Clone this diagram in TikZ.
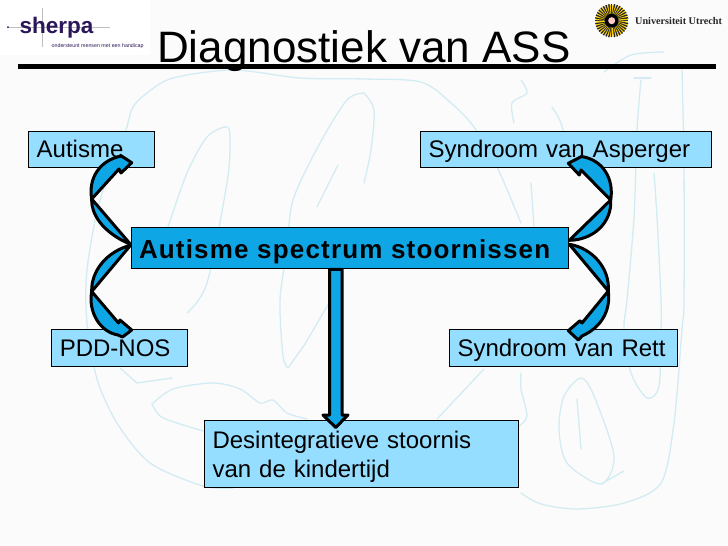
\documentclass[tikz,border=0pt]{standalone}
\usepackage{fontspec}
\setmainfont{Liberation Sans}
\newfontfamily\spacedbold[LetterSpace=4.5,BoldFont={Liberation Sans Bold}]{Liberation Sans}
\newfontfamily\uufont{Liberation Serif}
\definecolor{paperback}{HTML}{FBFBFB}
\definecolor{sketchline}{HTML}{D3ECF3}
\definecolor{boxlight}{HTML}{96DEFF}
\definecolor{boxdark}{HTML}{0FA6E6}
\definecolor{sherpapurple}{HTML}{2B1659}
\tikzset{
  lightbox/.style={draw=black, line width=1pt, fill=boxlight, anchor=north west, inner xsep=8pt, inner ysep=0pt, align=left, font=\fontsize{24}{29.3}\selectfont},
  darkbox/.style={draw=black, line width=1pt, fill=boxdark, anchor=north west, inner xsep=8pt, inner ysep=0pt, align=left, font=\fontsize{26}{31}\spacedbold\bfseries},
  crescent/.style={draw=black, line width=3pt, fill=boxdark, line join=round},
  sketch/.style={draw=sketchline, line width=1.3pt, line cap=round, line join=round}
}
\begin{document}
\begin{tikzpicture}[x=1pt, y=-1pt]
\useasboundingbox (0,0) rectangle (728,546);
\fill[paperback] (0,0) rectangle (728,546);
% sketch in the background
\draw[sketch] plot[smooth] coordinates {(127,127) (133,107) (147,93) (173,78) (233,70) (300,78) (364,79) (421,82) (451,103) (474,127) (497,167) (521,223)};
\draw[sketch] plot[smooth] coordinates {(127,127) (100,200) (87,270) (87,323) (97,379) (117,423) (150,463) (203,486) (233,488)};
\draw[sketch] plot[smooth] coordinates {(167,230) (187,173) (207,137) (227,127) (230,143) (227,183) (207,283) (187,313)};
\draw[sketch] plot[smooth] coordinates {(364,93) (347,100) (320,143) (293,200) (287,250) (280,300) (283,356) (288,368)};
\draw[sketch] (288,368) -- (305,344) -- (333,296);
\draw[sketch] (338,165) -- (317,207);
\draw[sketch] plot[smooth] coordinates {(364,93) (374,110) (371,150) (364,183)};
\draw[sketch] plot[smooth] coordinates {(152,404) (173,389) (213,383) (240,389) (260,403) (273,400) (287,413) (307,419)};
\draw[sketch] plot[smooth] coordinates {(152,404) (160,416) (177,423) (203,431)};
\draw[sketch] (120,368) -- (137,383) -- (172,378);
\draw[sketch] plot[smooth] coordinates {(521,80) (527,93) (512,103) (514,123)};
\draw[sketch] plot[smooth] coordinates {(552,107) (561,123) (567,150)};
\draw[sketch] plot[smooth] coordinates {(641,80) (637,130) (634,217) (627,300) (624,329) (631,373) (647,398) (659,386) (661,329) (661,300) (657,217) (654,173)};
\draw[sketch] (634,78) -- (651,78);
\draw[sketch] plot[smooth] coordinates {(682,70) (684,167) (684,300) (682,329) (674,423) (661,483) (624,503) (577,509) (541,504) (521,493)};
\draw[sketch] plot[smooth cycle] coordinates {(581,378) (564,396) (559,429) (567,463) (601,484) (614,456) (594,396)};
\draw[sketch] (601,484) -- (624,471);
\draw[sketch] (577,399) -- (581,449);
\draw[sketch] plot[smooth] coordinates {(521,373) (521,389) (527,416) (519,426)};
\draw[sketch] (484,369) -- (437,419);
\draw[sketch] plot[smooth] coordinates {(531,183) (534,227)};
\draw[sketch] plot[smooth] coordinates {(604,72) (631,55) (664,52)};
% logos
\fill[white] (0,0) rectangle (150,55);
\draw[black!25, line width=.4pt] (42,8) -- (42,47) (7,27) -- (110,27);
\fill[sherpapurple] (8,27) circle (1pt);
\node[anchor=base west, inner sep=0pt, text=sherpapurple, font=\fontsize{22.5}{26}\selectfont\bfseries] (sherpa) at (19.5,33) {sherpa};
\node[anchor=base west, inner sep=0pt, text=sherpapurple, font=\fontsize{5.3}{6}\selectfont] (sherpasub) at (51.5,47) {ondersteunt mensen met een handicap};
\foreach \a in {0,10,...,350} {
  \draw[line width=1.5pt, black!85] (611.7,20.7) ++(\a:7) -- ++(\a:9.7);
  \draw[line width=1.2pt, yellow!70!orange] (611.7,20.7) ++(\a+5:7) -- ++(\a+5:9);
}
\fill[black] (611.7,20.7) circle (7);
\fill[white!80!red] (611.7,20.7) circle (3.5);
\node[anchor=west, inner sep=0pt, text=black!85, font=\fontsize{10.2}{12}\uufont\bfseries] (uutext) at (635,20.7) {Universiteit Utrecht};
% title
\node[anchor=base west, inner sep=0pt, font=\fontsize{44}{44}\selectfont] (title) at (157,62) {Diagnostiek van ASS};
\fill[black] (18,64) rectangle (716,69);
% boxes
\node[lightbox, minimum height=36.5pt, text width=109.5pt, text height=21pt, text depth=4.5pt] (autisme) at (28.2,130.7) {Autisme};
\node[lightbox, minimum height=36.5pt, text width=274.5pt, text height=21pt, text depth=4.5pt] (asperger) at (420.2,130.7) {Syndroom van Asperger};
\node[darkbox, minimum height=41pt, text width=421.8pt, text height=26pt, text depth=5pt] (spectrum) at (130.5,227.3) {Autisme spectrum stoornissen};
\node[lightbox, minimum height=36.5pt, text width=120pt, text height=21pt, text depth=4.5pt] (pddnos) at (51.3,329.3) {PDD-NOS};
\node[lightbox, minimum height=36.5pt, text width=211.7pt, text height=21pt, text depth=4.5pt] (rett) at (449,329.3) {Syndroom van Rett};
\node[lightbox, minimum height=67pt, text width=298pt] (desint) at (204,420) {\rule{0pt}{26.5pt}Desintegratieve stoornis\\van de kindertijd\strut};
% arrows
\coordinate (lmidtop) at (91.7,199);
\coordinate (lmidbot) at (91.7,291.5);
\coordinate (rmidtop) at (610.7,200);
\coordinate (rmidbot) at (608.3,291);
\filldraw[crescent] (spectrum.west) ++(0,-4) .. controls (108,235) and (91,218) .. (lmidtop) -- cycle;
\filldraw[crescent] (spectrum.west) ++(0,-3) .. controls (108,251) and (91,270) .. (lmidbot) -- cycle;
\filldraw[crescent] (lmidtop) .. controls (88,178) and (100,160) .. (121.5,156) -- (131.7,162.7) -- (121,173) -- (119,169) -- cycle;
\filldraw[crescent] (lmidbot) .. controls (88,312) and (100,332) .. (118,335) -- (122.5,337) -- (131.7,330) -- (120,320) -- (118.5,323) -- cycle;
\filldraw[crescent] (spectrum.east) ++(0,-8) .. controls (594,240) and (612,222) .. (rmidtop) -- cycle;
\filldraw[crescent] (spectrum.east) ++(0,-4) .. controls (592,248) and (610,268) .. (rmidbot) -- cycle;
\filldraw[crescent] (rmidtop) .. controls (614,180) and (604,160) .. (581.5,156.5) -- (568.3,163.3) -- (579.3,175) -- (581,170) -- cycle;
\filldraw[crescent] (rmidbot) .. controls (611,312) and (600,328) .. (582,336) -- (578.3,340) -- (568.3,330.7) -- (580,320.7) -- (582,323) -- cycle;
\filldraw[crescent] (329.5,269.3) -- (342,269.3) -- (342,415) -- (348,415) -- (335.7,427.5) -- (323,415) -- (329.5,415) -- cycle;
\end{tikzpicture}
\end{document}
